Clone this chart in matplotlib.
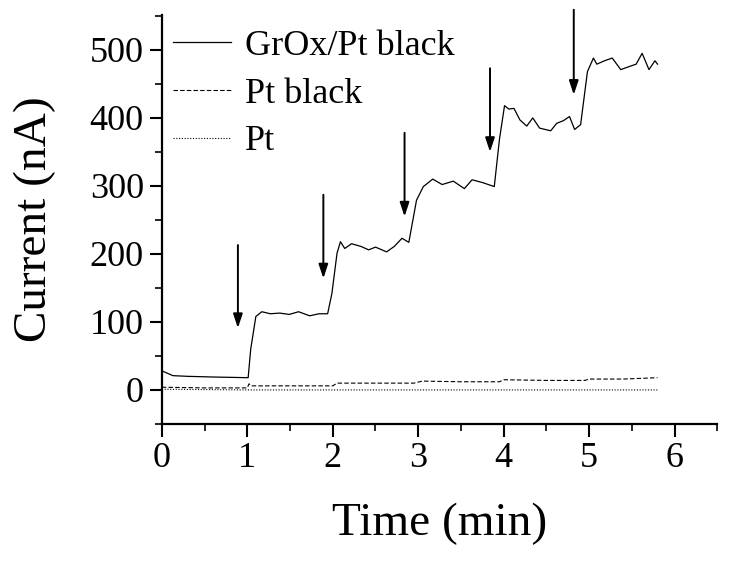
import numpy as np
import matplotlib
matplotlib.use("Agg")
import matplotlib.pyplot as plt
from matplotlib.ticker import MultipleLocator

# ===============================
# DATA
# ===============================
t_grox = [0.00, 0.02, 0.13, 0.30, 0.60, 1.01, 1.04, 1.10, 1.17, 1.27, 1.38, 1.49,
          1.60, 1.73, 1.84, 1.94, 1.99, 2.05, 2.09, 2.14, 2.22, 2.33, 2.42, 2.50,
          2.63, 2.72, 2.81, 2.89, 2.98, 3.06, 3.17, 3.28, 3.41, 3.54, 3.63, 3.75,
          3.89, 3.95, 4.01, 4.06, 4.12, 4.19, 4.27, 4.34, 4.42, 4.55, 4.62, 4.70,
          4.77, 4.83, 4.90, 4.98, 5.05, 5.09, 5.18, 5.27, 5.37, 5.48, 5.55, 5.62,
          5.70, 5.77, 5.80]
i_grox = [28, 27, 21, 20, 19, 18, 60, 108, 115, 112, 113, 111,
          115, 109, 112, 112, 142, 201, 218, 208, 215, 211, 206, 210,
          203, 211, 223, 217, 279, 299, 310, 302, 307, 296, 309, 305,
          299, 368, 418, 413, 414, 397, 388, 400, 385, 381, 392, 396,
          402, 383, 390, 468, 488, 479, 484, 488, 471, 476, 479, 495,
          471, 484, 479]

t_ptblack = [0.00, 0.50, 1.00, 1.02, 1.05, 1.50, 2.00, 2.05, 2.50, 2.95, 3.05,
             3.50, 3.95, 4.00, 4.50, 4.95, 5.00, 5.40, 5.80]
i_ptblack = [4, 3, 3, 9, 6, 6, 6, 10, 10, 10, 13,
             12, 12, 15, 14, 14, 16, 16, 18]

t_pt = [0.00, 0.50, 1.00, 2.00, 3.00, 4.00, 5.00, 5.80]
i_pt = [1, 0.5, 0, 0, 0, 0, 0, 0]

# arrows marking the additions: time, start (top) and tip current
arrow_t = [0.89, 1.89, 2.84, 3.84, 4.82]
arrow_top = [213, 287, 378, 473, 559]
arrow_tip = [91, 164, 255, 350, 434]

# ===============================
# STYLE
# ===============================
plt.rcParams.update({
    'font.family': 'serif',
    'font.serif': ['Liberation Serif', 'DejaVu Serif'],
})

fig = plt.figure(figsize=(7.29, 5.63), dpi=100)
ax = fig.add_axes([0.222, 0.247, 0.762, 0.726])

ax.plot(t_grox, i_grox, color='black', linewidth=0.9, label='GrOx/Pt black')
ax.plot(t_ptblack, i_ptblack, color='black', linewidth=0.8,
        linestyle=(0, (4, 2)), label='Pt black')
ax.plot(t_pt, i_pt, color='black', linewidth=0.8,
        linestyle=(0, (1, 1.5)), label='Pt')

for t, top, tip in zip(arrow_t, arrow_top, arrow_tip):
    ax.annotate('', xy=(t, tip), xytext=(t, top), annotation_clip=False,
                arrowprops=dict(arrowstyle='-|>,head_length=0.6,head_width=0.2',
                                color='black', lw=1.4, mutation_scale=14,
                                shrinkA=0, shrinkB=0))

ax.set_xlim(0, 6.5)
ax.set_ylim(-50, 551)
ax.xaxis.set_major_locator(MultipleLocator(1))
ax.xaxis.set_minor_locator(MultipleLocator(0.5))
ax.yaxis.set_major_locator(MultipleLocator(100))
ax.yaxis.set_minor_locator(MultipleLocator(50))

for side in ['top', 'right']:
    ax.spines[side].set_visible(False)
for side in ['left', 'bottom']:
    ax.spines[side].set_linewidth(1.6)

ax.tick_params(which='major', direction='out', length=9, width=1.5,
               labelsize=26, pad=4)
ax.tick_params(which='minor', direction='out', length=5, width=1.2)

ax.set_xlabel('Time (min)', fontsize=34, labelpad=20)
ax.set_ylabel('Current (nA)', fontsize=34, labelpad=24)

ax.legend(loc='upper left', bbox_to_anchor=(0.02, 0.965), frameon=False,
          fontsize=26, handlelength=1.6, handletextpad=0.4,
          labelspacing=0.4, borderaxespad=0, borderpad=0)

fig.savefig('out.png', dpi=100)
